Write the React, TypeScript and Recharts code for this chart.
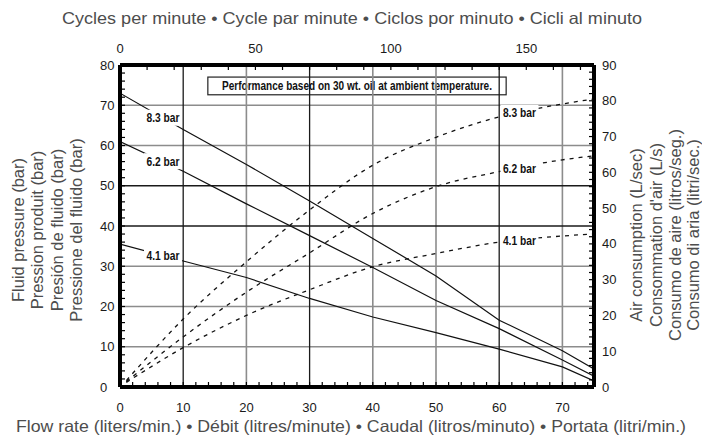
import React from "react"
import {
  LineChart,
  Line,
  XAxis,
  YAxis,
  ReferenceLine,
  ReferenceDot,
  ReferenceArea,
  Label,
} from "recharts"

// flow rate (l/min) sample points
const flowPts = [0, 10, 20, 30, 40, 50, 60, 70, 75]
const fluid83 = [73, 64, 55.3, 46.2, 36.9, 27.6, 16.6, 9, 4.5]
const fluid62 = [61, 53.6, 45.5, 37.6, 29.7, 21.5, 14.5, 6.7, 2.7]
const fluid41 = [35.5, 31.3, 27.2, 22, 17.4, 13.5, 9.4, 5, 1.5]

const airFlowPts = [1, 10, 20, 30, 40, 50, 60, 70, 75]
const air83 = [1.8, 19, 35, 49.5, 62, 69.8, 75.5, 79.1, 80.5]
const air62 = [1.5, 14, 26.5, 37.5, 48.5, 56, 60.2, 63.5, 64.6]
const air41 = [1.3, 11, 20, 27.2, 33.6, 37.3, 40.5, 42.2, 42.8]

const flowLabels = [0, 10, 20, 30, 40, 50, 60, 70]
const barLabels = [0, 10, 20, 30, 40, 50, 60, 70, 80]
const airLabels = [0, 10, 20, 30, 40, 50, 60, 70, 80, 90]
const cycleLabels = [0, 50, 100, 150]

const blackGridX = [10, 30, 60]
const grayGridX = [20, 40, 50, 70]
const blackGridY = [40, 50]
const grayGridY = [10, 20, 30, 60, 70]

const solidLabels = [
  { text: "8.3 bar", flow: 6.8, value: 66.9 },
  { text: "6.2 bar", flow: 6.8, value: 56.1 },
  { text: "4.1 bar", flow: 6.8, value: 32.6 },
]
const dashedLabels = [
  { text: "8.3 bar", flow: 63.2, value: 76.6 },
  { text: "6.2 bar", flow: 63.2, value: 61.2 },
  { text: "4.1 bar", flow: 63.2, value: 40.9 },
]

const leftTitle = [
  "Fluid pressure (bar)",
  "Pression produit (bar)",
  "Presión de fluido (bar)",
  "Pressione del fluido (bar)",
]
const rightTitle = [
  "Air consumption (L/sec)",
  "Consommation d'air (L/s)",
  "Consumo de aire (litros/seg.)",
  "Consumo di aria (litri/sec.)",
]

const steps = (max: number, step: number) => {
  const out: number[] = []
  for (let v = 0; v <= max + 1e-9; v += step) out.push(Math.round(v * 100) / 100)
  return out
}

const toRows = (xs: number[], ys: number[]) => xs.map((x, i) => ({ x, y: ys[i] }))

const SANS = "'Liberation Sans', Arial, sans-serif"
const TITLE = "#4d4d4d"
const TICK = "#1a1a1a"

const PLOT_TOP = 65
const PLOT_BOTTOM = 387

function BottomTick(props: any) {
  const v = props.payload.value
  if (!flowLabels.includes(v)) return <g />
  return (
    <text x={props.payload.coordinate} y={PLOT_BOTTOM + 25} textAnchor="middle" fontSize={13} fill={TICK} fontFamily={SANS}>
      {v}
    </text>
  )
}

function TopTick(props: any) {
  const v = props.payload.value
  if (!cycleLabels.includes(v)) return <g />
  return (
    <text x={props.payload.coordinate} y={PLOT_TOP - 12} textAnchor="middle" fontSize={13} fill={TICK} fontFamily={SANS}>
      {v}
    </text>
  )
}

function LeftTick(props: any) {
  const v = props.payload.value
  if (!barLabels.includes(v)) return <g />
  return (
    <text x={100} y={props.payload.coordinate + 4.5} textAnchor="start" fontSize={13} fill={TICK} fontFamily={SANS}>
      {v}
    </text>
  )
}

function RightTick(props: any) {
  const v = props.payload.value
  if (!airLabels.includes(v)) return <g />
  return (
    <text x={602} y={props.payload.coordinate + 4.5} textAnchor="start" fontSize={13} fill={TICK} fontFamily={SANS}>
      {v}
    </text>
  )
}

function RotatedLines({ lines, xs, cy }: { lines: string[]; xs: number[]; cy: number }) {
  return (
    <g>
      {lines.map((t, i) => (
        <text
          key={t}
          x={xs[i]}
          y={cy}
          transform={`rotate(-90 ${xs[i]} ${cy})`}
          textAnchor="middle"
          dominantBaseline="central"
          fontSize={16.5}
          fill={TITLE}
          fontFamily={SANS}
        >
          {t}
        </text>
      ))}
    </g>
  )
}

function SeriesLabel(text: string) {
  return (props: any) => (
    <g>
      <rect x={props.cx - 19} y={props.cy - 8} width={38} height={16} fill="#fff" />
      <text
        x={props.cx - 16.5}
        y={props.cy + 4.5}
        textLength={33}
        lengthAdjust="spacingAndGlyphs"
        fontSize={12.5}
        fontWeight="bold"
        fill="#111"
        fontFamily={SANS}
      >
        {text}
      </text>
    </g>
  )
}

function NoteBox(props: any) {
  const { x, y, width, height } = props
  return (
    <g>
      <rect x={x} y={y} width={width} height={height} fill="#fff" stroke="#222" strokeWidth={1.2} />
      <text
        x={x + width / 2 - 135}
        y={y + height / 2 + 4.5}
        textLength={270}
        lengthAdjust="spacingAndGlyphs"
        fontSize={12.5}
        fontWeight="bold"
        fill="#111"
        fontFamily={SANS}
      >
        Performance based on 30 wt. oil at ambient temperature.
      </text>
    </g>
  )
}

const axisLine = { stroke: "#000", strokeWidth: 4 }
const tickLine = { stroke: "#000", strokeWidth: 1.2 }

export default function App() {
  return (
    <div style={{ position: "absolute", left: 0, top: 0, background: "#fff" }}>
      <LineChart width={702} height={441} margin={{ top: 0, right: 0, bottom: 0, left: 0 }}>
        <XAxis
          xAxisId="flow"
          type="number"
          dataKey="x"
          domain={[0, 75]}
          ticks={steps(74, 2)}
          interval={0}
          height={54}
          axisLine={axisLine}
          tickLine={tickLine}
          tickSize={-5}
          tick={BottomTick}
          allowDataOverflow
        >
          <Label
            content={() => (
              <text x={16} y={432} textLength={670} lengthAdjust="spacingAndGlyphs" fontSize={16.5} fill={TITLE} fontFamily={SANS}>
                Flow rate (liters/min.) • Débit (litres/minute) • Caudal (litros/minuto) • Portata (litri/min.)
              </text>
            )}
          />
        </XAxis>
        <XAxis
          xAxisId="cycles"
          type="number"
          dataKey="x"
          orientation="top"
          domain={[0, 175]}
          ticks={steps(170, 10)}
          interval={0}
          height={65}
          axisLine={axisLine}
          tickLine={tickLine}
          tickSize={-5}
          tick={TopTick}
          allowDataOverflow
        >
          <Label
            content={() => (
              <text x={62} y={24} textLength={580} lengthAdjust="spacingAndGlyphs" fontSize={16.5} fill={TITLE} fontFamily={SANS}>
                Cycles per minute • Cycle par minute • Ciclos por minuto • Cicli al minuto
              </text>
            )}
          />
        </XAxis>
        <YAxis
          yAxisId="bar"
          type="number"
          domain={[0, 80]}
          ticks={steps(80, 2)}
          interval={0}
          width={120}
          axisLine={axisLine}
          tickLine={tickLine}
          tickSize={-5}
          tick={LeftTick}
          allowDataOverflow
        >
          <Label content={() => <RotatedLines lines={leftTitle} xs={[17.5, 37, 56.5, 76]} cy={230} />} />
        </YAxis>
        <YAxis
          yAxisId="air"
          type="number"
          orientation="right"
          domain={[0, 90]}
          ticks={steps(90, 2)}
          interval={0}
          width={108}
          axisLine={axisLine}
          tickLine={tickLine}
          tickSize={-5}
          tick={RightTick}
          allowDataOverflow
        >
          <Label content={() => <RotatedLines lines={rightTitle} xs={[636, 655.5, 675, 693]} cy={235} />} />
        </YAxis>

        {grayGridX.map((v) => (
          <ReferenceLine key={"gx" + v} xAxisId="flow" yAxisId="bar" x={v} stroke="#8c8c8c" strokeWidth={1.6} />
        ))}
        {grayGridY.map((v) => (
          <ReferenceLine key={"gy" + v} xAxisId="flow" yAxisId="bar" y={v} stroke="#8c8c8c" strokeWidth={1.6} />
        ))}
        {blackGridX.map((v) => (
          <ReferenceLine key={"bx" + v} xAxisId="flow" yAxisId="bar" x={v} stroke="#1a1a1a" strokeWidth={1.3} />
        ))}
        {blackGridY.map((v) => (
          <ReferenceLine key={"by" + v} xAxisId="flow" yAxisId="bar" y={v} stroke="#1a1a1a" strokeWidth={1.3} />
        ))}

        {/* invisible helper so the cycles axis has data to scale */}
        <Line xAxisId="cycles" yAxisId="bar" data={toRows(cycleLabels, cycleLabels.map(() => 0))} dataKey="y" stroke="none" dot={false} activeDot={false} isAnimationActive={false} />

        <Line xAxisId="flow" yAxisId="bar" data={toRows(flowPts, fluid83)} dataKey="y" type="linear" stroke="#111" strokeWidth={1.2} dot={false} isAnimationActive={false} />
        <Line xAxisId="flow" yAxisId="bar" data={toRows(flowPts, fluid62)} dataKey="y" type="linear" stroke="#111" strokeWidth={1.2} dot={false} isAnimationActive={false} />
        <Line xAxisId="flow" yAxisId="bar" data={toRows(flowPts, fluid41)} dataKey="y" type="linear" stroke="#111" strokeWidth={1.2} dot={false} isAnimationActive={false} />
        <Line xAxisId="flow" yAxisId="air" data={toRows(airFlowPts, air83)} dataKey="y" type="monotone" stroke="#111" strokeWidth={1.3} strokeDasharray="4 5" dot={false} isAnimationActive={false} />
        <Line xAxisId="flow" yAxisId="air" data={toRows(airFlowPts, air62)} dataKey="y" type="monotone" stroke="#111" strokeWidth={1.3} strokeDasharray="4 5" dot={false} isAnimationActive={false} />
        <Line xAxisId="flow" yAxisId="air" data={toRows(airFlowPts, air41)} dataKey="y" type="monotone" stroke="#111" strokeWidth={1.3} strokeDasharray="4 5" dot={false} isAnimationActive={false} />

        <ReferenceArea xAxisId="flow" yAxisId="bar" x1={13.9} x2={61.1} y1={72.6} y2={77} shape={NoteBox} />

        {solidLabels.map((l) => (
          <ReferenceDot key={"s" + l.text} xAxisId="flow" yAxisId="bar" x={l.flow} y={l.value} r={0} shape={SeriesLabel(l.text)} />
        ))}
        {dashedLabels.map((l) => (
          <ReferenceDot key={"d" + l.text} xAxisId="flow" yAxisId="air" x={l.flow} y={l.value} r={0} shape={SeriesLabel(l.text)} />
        ))}
      </LineChart>
    </div>
  )
}
